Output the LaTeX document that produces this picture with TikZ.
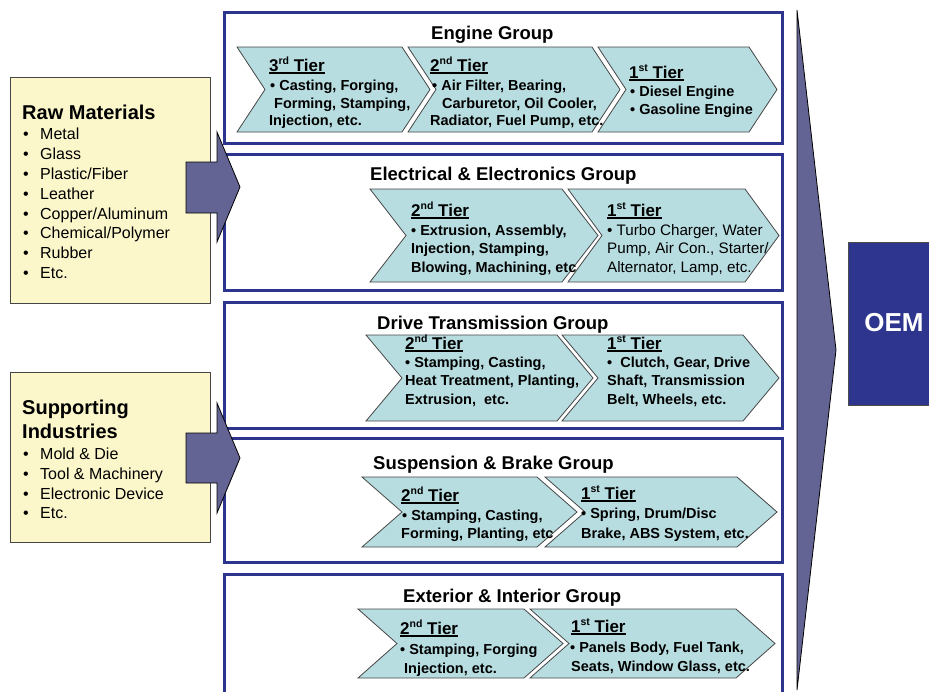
\documentclass[tikz,border=0pt]{standalone}
\usepackage{fontspec}
\setmainfont{Liberation Sans}

\definecolor{grpblue}{RGB}{44,52,142}
\definecolor{chevfill}{RGB}{184,221,225}
\definecolor{chevline}{RGB}{70,70,70}
\definecolor{creamfill}{RGB}{251,247,203}
\definecolor{creamline}{RGB}{70,70,70}
\definecolor{arrowfill}{RGB}{99,99,148}
\definecolor{oemfill}{RGB}{45,53,143}

% underlined tier heading with a heavier rule than \underline gives
\newcommand\tierul[1]{\sbox0{#1}\rlap{\rule[-3pt]{\wd0}{1.7pt}}\usebox0}
% small raised ordinal suffix
\newcommand\ordsup[1]{\raisebox{6.5pt}{\fontsize{10.5}{10}\selectfont #1}}
% bulleted list entry
\newcommand\itm[1]{\makebox[17pt][l]{•}#1}

\begin{document}
\begin{tikzpicture}[x=1pt,y=-1pt,
  grpbox/.style={draw=grpblue, line width=3pt},
  chevstyle/.style={fill=chevfill, draw=chevline, line width=0.8pt, line join=miter},
  blockarrow/.style={fill=arrowfill, draw=black, line width=0.8pt, line join=miter},
  creambox/.style={fill=creamfill, draw=creamline, line width=0.8pt},
  grptitle/.style={anchor=base west, inner sep=0pt, font=\fontsize{18.5}{22}\selectfont\bfseries},
  tier/.style={anchor=base west, inner sep=0pt, font=\fontsize{17}{20}\selectfont\bfseries},
  bodyb/.style={anchor=base west, inner sep=0pt, font=\fontsize{14.5}{18}\selectfont\bfseries},
  bodyr/.style={anchor=base west, inner sep=0pt, font=\fontsize{15.2}{18}\selectfont},
  listhead/.style={anchor=base west, inner sep=0pt, font=\fontsize{20}{24}\selectfont\bfseries},
  listitem/.style={anchor=base west, inner sep=0pt, font=\fontsize{16}{20}\selectfont},
]
\useasboundingbox (0,0) rectangle (929,691);

% chevron: left x, top-right-corner x, top y, bottom y, depth of notch and tip
\newcommand\chev[5]{\draw[chevstyle] (#1,#3) -- (#2,#3) -- ({#2+#5},{(#3+#4)/2}) -- (#2,#4) -- (#1,#4) -- ({#1+#5},{(#3+#4)/2}) -- cycle;}

% ---------- group frames ----------
\draw[grpbox] (224,12) rectangle (782,143);
\draw[grpbox] (224,154) rectangle (782,290);
\draw[grpbox] (224,302) rectangle (782,428);
\draw[grpbox] (224,438) rectangle (782,562);
\draw[grpbox] (224,692) -- (224,574) -- (782,574) -- (782,692);

% ---------- chevrons ----------
\chev{237}{402}{47}{132}{28}
\chev{408}{592}{47}{132}{28}
\chev{598}{749}{47}{132}{28}

\chev{370}{562}{189}{282}{36}
\chev{568}{745}{189}{282}{34}

\chev{366}{557}{335}{421}{36}
\chev{562}{743}{335}{421}{36}

\chev{362}{537}{477}{547}{40}
\chev{545}{737}{477}{547}{40}

\chev{358}{524}{609}{678}{39}
\chev{530}{736}{609}{678}{39}

% ---------- Engine group ----------
\node[grptitle] (engT) at (431,39.5) {Engine Group};
\node[tier]  (eng3t) at (269,71)  {\tierul{3\ordsup{rd} Tier}};
\node[bodyb] (eng3a) at (270,90)  {• Casting, Forging,};
\node[bodyb] (eng3b) at (274,108) {Forming, Stamping,};
\node[bodyb] (eng3c) at (269,125) {Injection, etc.};
\node[tier]  (eng2t) at (430,71)  {\tierul{2\ordsup{nd} Tier}};
\node[bodyb] (eng2a) at (432,90)  {• Air Filter, Bearing,};
\node[bodyb] (eng2b) at (442,108) {Carburetor, Oil Cooler,};
\node[bodyb] (eng2c) at (430,125) {Radiator, Fuel Pump, etc.};
\node[tier]  (eng1t) at (629,78)  {\tierul{1\ordsup{st} Tier}};
\node[bodyb] (eng1a) at (630,96)  {• Diesel Engine};
\node[bodyb] (eng1b) at (630,114) {• Gasoline Engine};

% ---------- Electrical & Electronics group ----------
\node[grptitle] (eleT) at (370,180.5) {Electrical \& Electronics Group};
\node[tier]  (ele2t) at (411,216) {\tierul{2\ordsup{nd} Tier}};
\node[bodyb] (ele2a) at (411,235) {• Extrusion, Assembly,};
\node[bodyb] (ele2b) at (411,253) {Injection, Stamping,};
\node[bodyb] (ele2c) at (411,272) {Blowing, Machining, etc};
\node[tier]  (ele1t) at (607,216) {\tierul{1\ordsup{st} Tier}};
\node[bodyr] (ele1a) at (607,235) {• Turbo Charger, Water};
\node[bodyr] (ele1b) at (607,253) {Pump, Air Con., Starter/};
\node[bodyr] (ele1c) at (607,272) {Alternator, Lamp, etc.};

% ---------- Drive Transmission group ----------
\node[grptitle] (drvT) at (377,329.5) {Drive Transmission Group};
\node[tier]  (drv2t) at (405,349) {\tierul{2\ordsup{nd} Tier}};
\node[bodyb] (drv2a) at (405,367) {• Stamping, Casting,};
\node[bodyb] (drv2b) at (405,385) {Heat Treatment, Planting,};
\node[bodyb] (drv2c) at (405,404) {Extrusion,\ \ etc.};
\node[tier]  (drv1t) at (607,349) {\tierul{1\ordsup{st} Tier}};
\node[bodyb] (drv1a) at (607,367) {•\ \ Clutch, Gear, Drive};
\node[bodyb] (drv1b) at (607,385) {Shaft, Transmission};
\node[bodyb] (drv1c) at (607,404) {Belt, Wheels, etc.};

% ---------- Suspension & Brake group ----------
\node[grptitle] (susT) at (373,469.5) {Suspension \& Brake Group};
\node[tier]  (sus2t) at (401,501) {\tierul{2\ordsup{nd} Tier}};
\node[bodyb] (sus2a) at (402,520) {• Stamping, Casting,};
\node[bodyb] (sus2b) at (401,538) {Forming, Planting, etc};
\node[tier]  (sus1t) at (581,499) {\tierul{1\ordsup{st} Tier}};
\node[bodyb] (sus1a) at (581,518) {• Spring, Drum/Disc};
\node[bodyb] (sus1b) at (581,538) {Brake, ABS System, etc.};

% ---------- Exterior & Interior group ----------
\node[grptitle] (extT) at (403,602.5) {Exterior \& Interior Group};
\node[tier]  (ext2t) at (400,634) {\tierul{2\ordsup{nd} Tier}};
\node[bodyb] (ext2a) at (400,654) {• Stamping, Forging};
\node[bodyb] (ext2b) at (404,673) {Injection, etc.};
\node[tier]  (ext1t) at (571,632) {\tierul{1\ordsup{st} Tier}};
\node[bodyb] (ext1a) at (570,652) {• Panels Body, Fuel Tank,};
\node[bodyb] (ext1b) at (571,671) {Seats, Window Glass, etc.};

% ---------- inputs ----------
\draw[creambox] (10,77) rectangle (210,303);
\node[listhead] (rawT) at (22,119) {Raw Materials};
\node[listitem] (raw1) at (23,139.5) {\itm{Metal}};
\node[listitem] (raw2) at (23,159.5) {\itm{Glass}};
\node[listitem] (raw3) at (23,179.5) {\itm{Plastic/Fiber}};
\node[listitem] (raw4) at (23,199.3) {\itm{Leather}};
\node[listitem] (raw5) at (23,219) {\itm{Copper/Aluminum}};
\node[listitem] (raw6) at (23,238.8) {\itm{Chemical/Polymer}};
\node[listitem] (raw7) at (23,258.7) {\itm{Rubber}};
\node[listitem] (raw8) at (23,278.6) {\itm{Etc.}};

\draw[creambox] (10,372) rectangle (210,542);
\node[listhead] (supT1) at (22,414) {Supporting};
\node[listhead] (supT2) at (22,438) {Industries};
\node[listitem] (sup1) at (23,459.5) {\itm{Mold \& Die}};
\node[listitem] (sup2) at (23,479.5) {\itm{Tool \& Machinery}};
\node[listitem] (sup3) at (23,499.3) {\itm{Electronic Device}};
\node[listitem] (sup4) at (23,518.8) {\itm{Etc.}};

% block arrows feeding the groups
\draw[blockarrow] (186,162) -- (217,162) -- (217,132) -- (240,187) -- (217,242) -- (217,213) -- (186,213) -- cycle;
\draw[blockarrow] (186,433) -- (217,433) -- (217,403) -- (240,458) -- (217,513) -- (217,483) -- (186,483) -- cycle;

% ---------- towards the OEM ----------
\draw[blockarrow] (797,10) -- (836,350) -- (797,690) -- cycle;
\fill[oemfill] (848,242) rectangle (929,405);
\draw[black!70, line width=0.8pt] (929,242) -- (848,242) -- (848,405) -- (929,405);
\node[inner sep=0pt, text=white, font=\fontsize{26}{30}\selectfont\bfseries] (oem) at (894,323) {OEM};
\end{tikzpicture}
\end{document}
